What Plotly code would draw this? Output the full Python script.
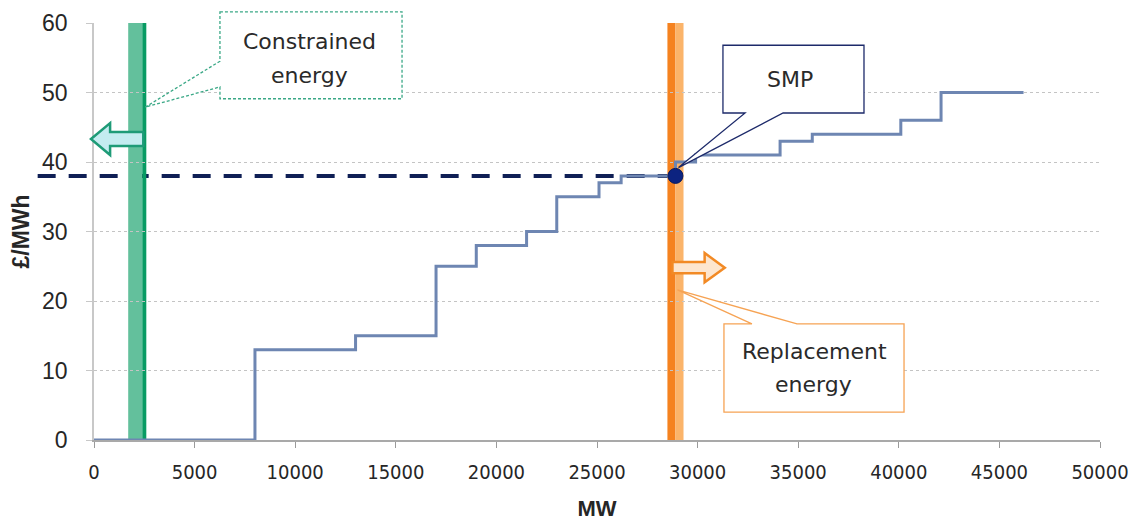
import plotly.graph_objects as go

# Bid stack: MW at which each price step starts, and the £/MWh price of that step
mw_breaks = [0, 8000, 13000, 17000, 19000, 21500, 23000, 25100, 26200,
             28900, 29900, 34100, 35700, 40100, 42100, 46200]
step_prices = [0, 13, 15, 25, 28, 30, 35, 37, 38, 40, 41, 43, 44, 46, 50]

# System marginal price and the demand at which it is set
smp_price = 38
smp_mw = 28900

# Constrained-off band (green) and replacement band (orange), in MW
constrained_band = (1700, 2400)
constrained_edge = 2600
replacement_edge = (28500, 28900)
replacement_band = (28900, 29300)

x_ticks = list(range(0, 50001, 5000))
y_ticks = list(range(0, 61, 10))
X_RANGE = (0, 50000)
Y_RANGE = (0, 60)


def px(v):
    return (v - X_RANGE[0]) / (X_RANGE[1] - X_RANGE[0])


def py(v):
    return (v - Y_RANGE[0]) / (Y_RANGE[1] - Y_RANGE[0])


def poly(points):
    return "M " + " L ".join(f"{px(x):.5f},{py(y):.5f}" for x, y in points) + " Z"


fig = go.Figure()

# Price step curve
fig.add_trace(go.Scatter(
    x=mw_breaks, y=step_prices + [step_prices[-1]],
    mode="lines", line=dict(shape="hv", color="#6e86b2", width=3),
    hoverinfo="skip", showlegend=False,
))

# SMP point
fig.add_trace(go.Scatter(
    x=[smp_mw], y=[smp_price], mode="markers",
    marker=dict(size=15, color="#0c2380", line=dict(color="#081a5e", width=1)),
    cliponaxis=False, hoverinfo="skip", showlegend=False,
))

shapes = []
# Vertical bands
shapes.append(dict(type="rect", xref="x", yref="y", layer="below",
                   x0=constrained_band[0], x1=constrained_band[1], y0=0, y1=60,
                   fillcolor="#63c09c", line=dict(width=0)))
shapes.append(dict(type="rect", xref="x", yref="y", layer="below",
                   x0=constrained_band[1], x1=constrained_edge, y0=0, y1=60,
                   fillcolor="#089b63", line=dict(width=0)))
shapes.append(dict(type="rect", xref="x", yref="y", layer="below",
                   x0=replacement_edge[0], x1=replacement_edge[1], y0=0, y1=60,
                   fillcolor="#f5821f", line=dict(width=0)))
shapes.append(dict(type="rect", xref="x", yref="y", layer="below",
                   x0=replacement_band[0], x1=replacement_band[1], y0=0, y1=60,
                   fillcolor="#fbb46a", line=dict(width=0)))

# Dashed SMP level line running back past the price axis
shapes.append(dict(type="line", xref="paper", yref="paper", layer="below",
                   x0=px(-2800), x1=px(smp_mw), y0=py(smp_price), y1=py(smp_price),
                   line=dict(color="#0f1f55", width=4, dash="18px,13px")))

# Block arrows
shapes.append(dict(type="path", xref="paper", yref="paper", layer="above",
                   path=poly([(-150, 43.3), (800, 45.6), (800, 44.3), (2450, 44.3),
                              (2450, 42.3), (800, 42.3), (800, 41.0)]),
                   fillcolor="#c4ecf0", line=dict(color="#1e9b77", width=2.5)))
shapes.append(dict(type="path", xref="paper", yref="paper", layer="above",
                   path=poly([(28750, 25.6), (30350, 25.6), (30350, 26.9), (31350, 24.8),
                              (30350, 22.7), (30350, 24.0), (28750, 24.0)]),
                   fillcolor="#fde6cf", line=dict(color="#f28a25", width=2.5)))

# Callout boxes
shapes.append(dict(type="path", xref="paper", yref="paper", layer="above",
                   path=poly([(6260, 61.6), (15310, 61.6), (15310, 49.1), (6260, 49.1),
                              (6260, 50.8), (2550, 47.9), (6260, 54.5)]),
                   fillcolor="white", line=dict(color="#3aa886", width=1.3, dash="3px,2px")))
shapes.append(dict(type="path", xref="paper", yref="paper", layer="above",
                   path=poly([(31260, 56.8), (38270, 56.8), (38270, 47.05), (34250, 47.05),
                              (29050, 39.2), (32360, 47.05), (31260, 47.05)]),
                   fillcolor="white", line=dict(color="#1d2a6a", width=1.3)))
shapes.append(dict(type="path", xref="paper", yref="paper", layer="above",
                   path=poly([(31310, 16.7), (32700, 16.7), (29000, 21.6), (34940, 16.7),
                              (40260, 16.7), (40260, 4.0), (31310, 4.0)]),
                   fillcolor="white", line=dict(color="#f6a354", width=1.3)))

callout_font = dict(family="DejaVu Sans", size=22, color="#2a2a2a")
labels = [
    ("Constrained", 10730, 57.3),
    ("energy", 10690, 52.4),
    ("SMP", 34600, 51.8),
    ("Replacement", 35830, 12.7),
    ("energy", 35740, 8.0),
]
annotations = [dict(text=t, x=px(x), y=py(y), xref="paper", yref="paper",
                    showarrow=False, xanchor="center", yanchor="middle",
                    font=callout_font) for t, x, y in labels]

fig.update_layout(
    width=1147, height=523,
    margin=dict(l=94, r=47, t=23, b=83),
    paper_bgcolor="white", plot_bgcolor="rgba(0,0,0,0)",
    shapes=shapes, annotations=annotations,
    xaxis=dict(
        range=list(X_RANGE), tickvals=x_ticks, ticktext=[str(v) for v in x_ticks],
        showgrid=False, zeroline=False, showline=True, linecolor="#a9a9a9", linewidth=1.5,
        ticks="outside", ticklen=6, tickcolor="#9a9a9a", ticklabelstandoff=7,
        automargin=False,
        tickfont=dict(family="Liberation Sans Narrow, DejaVu Sans Condensed, Liberation Sans",
                      size=20, color="#262626"),
        title=dict(text="<b>MW</b>", standoff=18,
                   font=dict(family="Liberation Sans", size=22, color="#262626")),
    ),
    yaxis=dict(
        range=list(Y_RANGE), tickvals=y_ticks,
        showgrid=True, gridcolor="#c4c4c4", griddash="3px,3px", gridwidth=1,
        zeroline=False, showline=True, linecolor="#c8c8c8", linewidth=1.5,
        ticks="outside", ticklen=6, tickcolor="#c8c8c8", ticklabelstandoff=14,
        automargin=False,
        tickfont=dict(family="Liberation Sans", size=23, color="#262626"),
        title=dict(text="<b>£/MWh</b>", standoff=6,
                   font=dict(family="Liberation Sans", size=23, color="#262626")),
    ),
)

fig.write_html("out.html")
